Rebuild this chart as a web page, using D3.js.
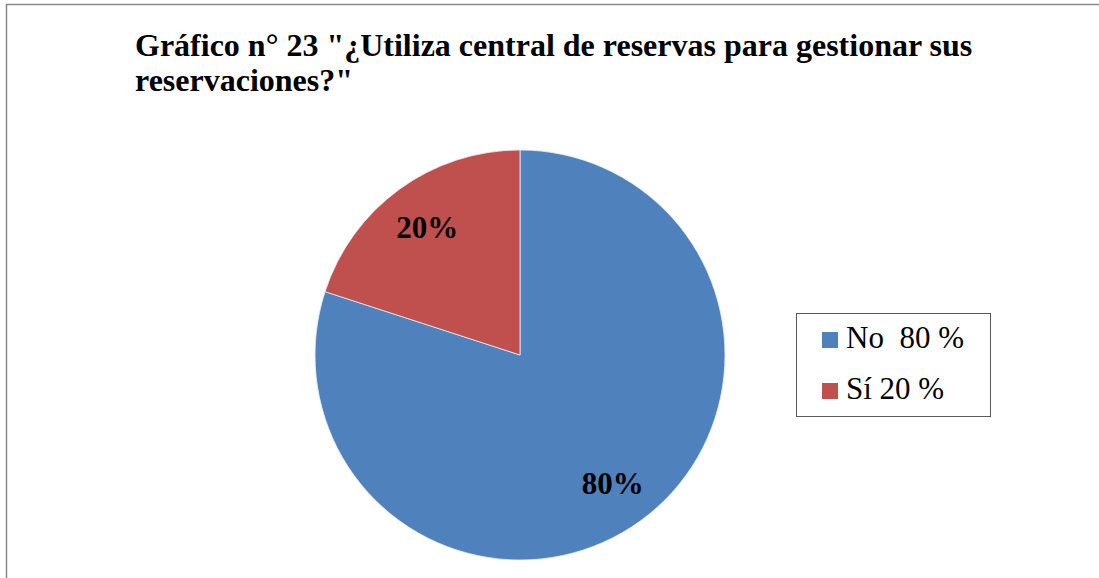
<!DOCTYPE html>
<html>
<head>
<meta charset="utf-8">
<script src="https://cdn.jsdelivr.net/npm/d3@7"></script>
<style>
  html, body { margin: 0; padding: 0; background: #fff; }
  svg { display: block; }
</style>
</head>
<body>
<svg id="chart" width="1099" height="578"></svg>
<script>
const titleLines = ['Gráfico n° 23 "¿Utiliza central de reservas para gestionar sus', 'reservaciones?"']
const categories = ['No', 'Sí']
const values = [80, 20]
const sliceLabels = ['80%', '20%']
const legendLabels = ['No  80 %', 'Sí 20 %']
const colors = ['#4F81BD', '#C0504D']

const svg = d3.select('#chart')
const serif = '"Liberation Serif", "Times New Roman", serif'

// chart frame (right and bottom edges fall outside the picture)
svg.append('rect')
  .attr('x', 6.5).attr('y', 4.5)
  .attr('width', 1200).attr('height', 700)
  .attr('fill', '#fff')
  .attr('stroke', '#898989')
  .attr('stroke-width', 1.5)

svg.append('g')
  .selectAll('text')
  .data(titleLines)
  .join('text')
  .attr('x', 135)
  .attr('y', (d, i) => 56 + i * 35)
  .attr('font-family', serif)
  .attr('font-weight', 'bold')
  .attr('font-size', 32)
  .attr('fill', '#000')
  .text(d => d)

const cx = 520, cy = 355, r = 205

// start at 12 o'clock, 'No' goes clockwise, 'Sí' fills the rest
const pie = d3.pie().sort(null).value(d => d)
const arcs = pie(values)
const arc = d3.arc().innerRadius(0).outerRadius(r)
const labelArc = d3.arc().innerRadius(r * 0.77).outerRadius(r * 0.77)

const g = svg.append('g').attr('transform', `translate(${cx},${cy})`)

g.selectAll('path')
  .data(arcs)
  .join('path')
  .attr('d', arc)
  .attr('fill', (d, i) => colors[i])
  .attr('stroke', '#e8eef6')
  .attr('stroke-width', 0.8)

g.selectAll('text')
  .data(arcs)
  .join('text')
  .attr('x', d => labelArc.centroid(d)[0])
  .attr('y', d => labelArc.centroid(d)[1])
  .attr('text-anchor', 'middle')
  .attr('dy', '0.35em')
  .attr('font-family', serif)
  .attr('font-weight', 'bold')
  .attr('font-size', 31)
  .attr('fill', '#000')
  .text((d, i) => sliceLabels[i])

// legend
const legend = svg.append('g').attr('transform', 'translate(796,313)')
legend.append('rect')
  .attr('x', 0.5).attr('y', 0.5)
  .attr('width', 194).attr('height', 103)
  .attr('fill', '#fff')
  .attr('stroke', '#595959')
  .attr('stroke-width', 1)

const rows = legend.selectAll('g.row')
  .data(categories)
  .join('g')
  .attr('class', 'row')
  .attr('transform', (d, i) => `translate(0,${i * 51})`)

rows.append('rect')
  .attr('x', 26).attr('y', 19)
  .attr('width', 16).attr('height', 16)
  .attr('fill', (d, i) => colors[i])

rows.append('text')
  .attr('x', 50)
  .attr('y', 35)
  .attr('font-family', serif)
  .attr('font-size', 31)
  .attr('fill', '#000')
  .attr('xml:space', 'preserve')
  .style('white-space', 'pre')
  .text((d, i) => legendLabels[i])
</script>
</body>
</html>
